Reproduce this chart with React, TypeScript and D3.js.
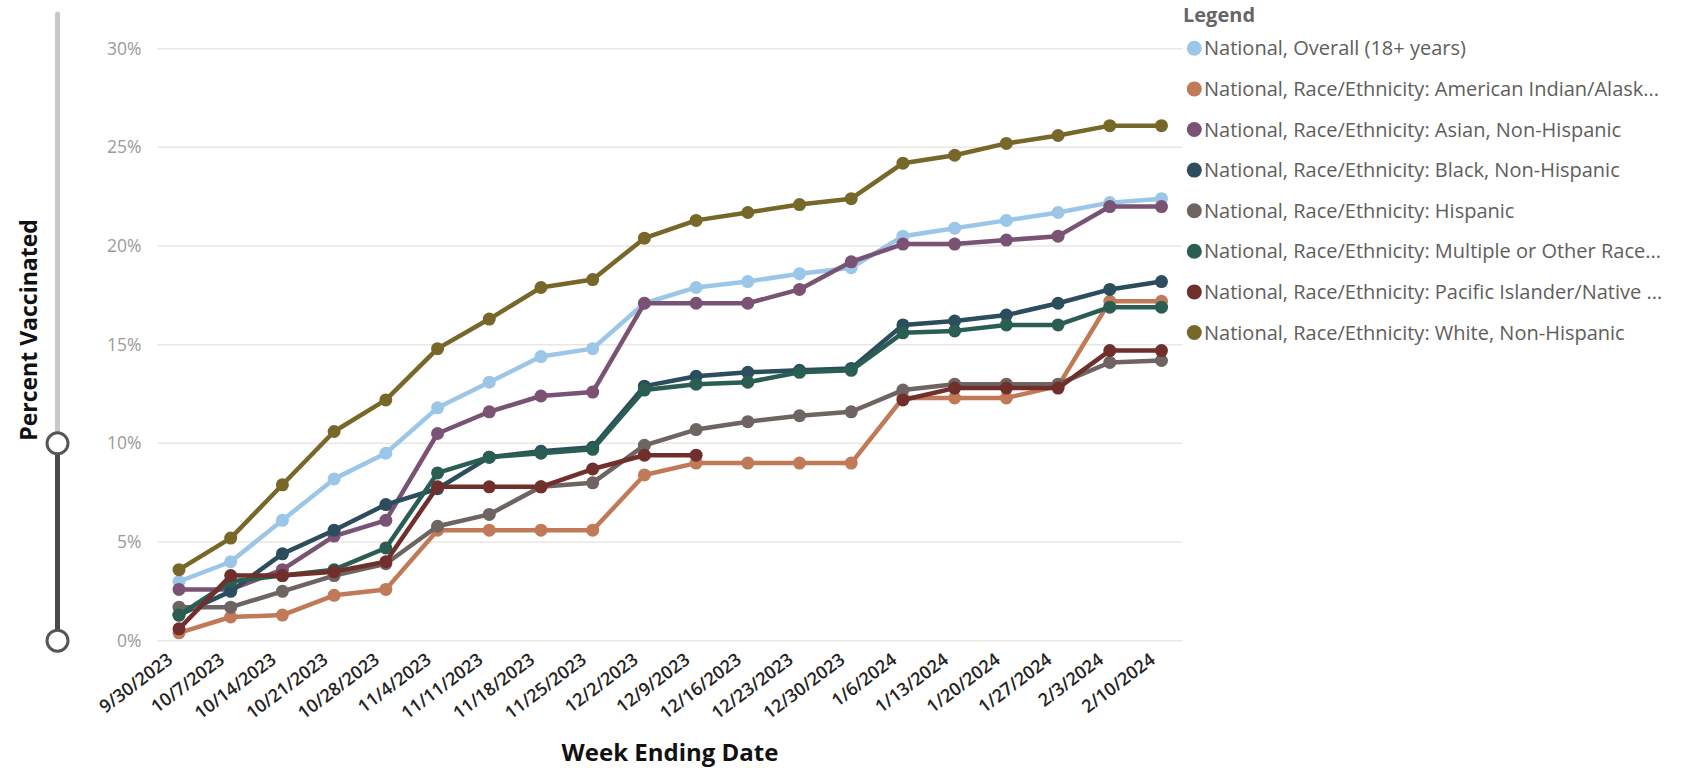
import React from "react";
import * as d3 from "d3";

const weeks = [
  "9/30/2023", "10/7/2023", "10/14/2023", "10/21/2023", "10/28/2023",
  "11/4/2023", "11/11/2023", "11/18/2023", "11/25/2023", "12/2/2023",
  "12/9/2023", "12/16/2023", "12/23/2023", "12/30/2023", "1/6/2024",
  "1/13/2024", "1/20/2024", "1/27/2024", "2/3/2024", "2/10/2024",
];

const overall = [3.0, 4.0, 6.1, 8.2, 9.5, 11.8, 13.1, 14.4, 14.8, 17.1, 17.9, 18.2, 18.6, 18.9, 20.5, 20.9, 21.3, 21.7, 22.2, 22.4];
const aian = [0.4, 1.2, 1.3, 2.3, 2.6, 5.6, 5.6, 5.6, 5.6, 8.4, 9.0, 9.0, 9.0, 9.0, 12.3, 12.3, 12.3, 12.9, 17.2, 17.2];
const asian = [2.6, 2.6, 3.6, 5.3, 6.1, 10.5, 11.6, 12.4, 12.6, 17.1, 17.1, 17.1, 17.8, 19.2, 20.1, 20.1, 20.3, 20.5, 22.0, 22.0];
const black = [1.3, 2.5, 4.4, 5.6, 6.9, 7.7, 9.3, 9.6, 9.8, 12.9, 13.4, 13.6, 13.7, 13.8, 16.0, 16.2, 16.5, 17.1, 17.8, 18.2];
const hispanic = [1.7, 1.7, 2.5, 3.3, 3.9, 5.8, 6.4, 7.8, 8.0, 9.9, 10.7, 11.1, 11.4, 11.6, 12.7, 13.0, 13.0, 13.0, 14.1, 14.2];
const multiple = [1.3, 3.0, 3.3, 3.6, 4.7, 8.5, 9.3, 9.5, 9.7, 12.7, 13.0, 13.1, 13.6, 13.7, 15.6, 15.7, 16.0, 16.0, 16.9, 16.9];
const pacific = [0.6, 3.3, 3.3, 3.5, 4.0, 7.8, 7.8, 7.8, 8.7, 9.4, 9.4, null, null, null, 12.2, 12.8, 12.8, 12.8, 14.7, 14.7];
const white = [3.6, 5.2, 7.9, 10.6, 12.2, 14.8, 16.3, 17.9, 18.3, 20.4, 21.3, 21.7, 22.1, 22.4, 24.2, 24.6, 25.2, 25.6, 26.1, 26.1];

const seriesNames = [
  "National, Overall (18+ years)",
  "National, Race/Ethnicity: American Indian/Alask...",
  "National, Race/Ethnicity: Asian, Non-Hispanic",
  "National, Race/Ethnicity: Black, Non-Hispanic",
  "National, Race/Ethnicity: Hispanic",
  "National, Race/Ethnicity: Multiple or Other Race...",
  "National, Race/Ethnicity: Pacific Islander/Native ...",
  "National, Race/Ethnicity: White, Non-Hispanic",
];
const seriesValues = [overall, aian, asian, black, hispanic, multiple, pacific, white];
const seriesColors = ["#9CC6E8", "#C07A57", "#7A5273", "#2C4D5E", "#6E6462", "#2A5E53", "#712F2C", "#776729"];

const yTicks = [0, 5, 10, 15, 20, 25, 30];

const FONT = "'Open Sans', 'Noto Sans', sans-serif";

export default function App() {
  const width = 1688;
  const height = 768;

  const x = d3.scalePoint<string>().domain(weeks).range([179, 1161.5]);
  const y = d3.scaleLinear().domain([0, 30]).range([640.7, 48.7]);
  const gridLeft = 157.5;
  const gridRight = 1182.5;

  const line = d3
    .line<number | null>()
    .defined((d) => d != null)
    .x((_, i) => x(weeks[i]) as number)
    .y((d) => y(d as number));

  const sliderX = 57.5;

  return (
    <svg
      width={width}
      height={height}
      style={{ position: "absolute", left: 0, top: 0, background: "#fff" }}
      fontFamily={FONT}
    >
      {/* range slider on the value axis */}
      <line x1={sliderX} x2={sliderX} y1={14} y2={y(10)} stroke="#C8C8C8" strokeWidth={5} strokeLinecap="round" />
      <line x1={sliderX} x2={sliderX} y1={y(10)} y2={y(0)} stroke="#4A4A4A" strokeWidth={5} />
      {[10, 0].map((v) => (
        <circle key={v} cx={sliderX} cy={y(v)} r={10.5} fill="#fff" stroke="#555" strokeWidth={3} />
      ))}

      {/* gridlines and value labels */}
      {yTicks.map((t) => (
        <g key={t}>
          <line x1={gridLeft} x2={gridRight} y1={y(t)} y2={y(t)} stroke="#EAE6E2" strokeWidth={1.5} />
          <text x={141.5} y={y(t)} dy="0.35em" textAnchor="end" fontSize={17.5} fill="#9B9B9B">
            {t}%
          </text>
        </g>
      ))}

      {/* week labels */}
      {weeks.map((w) => (
        <text
          key={w}
          transform={`translate(${(x(w) as number) - 5},${662}) rotate(-37)`}
          textAnchor="end"
          fontSize={18}
          fill="#252423"
          fontWeight={600}
        >
          {w}
        </text>
      ))}

      {/* series lines */}
      {seriesValues.map((vals, si) => (
        <g key={si}>
          <path d={line(vals) || ""} fill="none" stroke={seriesColors[si]} strokeWidth={4.5} strokeLinejoin="round" />
          {vals.map((v, i) =>
            v == null ? null : (
              <circle key={i} cx={x(weeks[i]) as number} cy={y(v)} r={6.5} fill={seriesColors[si]} />
            )
          )}
        </g>
      ))}

      {/* axis titles */}
      <text
        transform={`translate(37,330) rotate(-90)`}
        textAnchor="middle"
        fontSize={23}
        fontWeight={700}
        fill="#111"
      >
        Percent Vaccinated
      </text>
      <text x={670} y={761} textAnchor="middle" fontSize={24} fontWeight={700} fill="#111">
        Week Ending Date
      </text>

      {/* legend */}
      <text x={1183} y={15} dy="0.35em" fontSize={20} fontWeight={700} fill="#666">
        Legend
      </text>
      {seriesNames.map((name, i) => {
        const cy = 48.3 + i * 40.6;
        return (
          <g key={name}>
            <circle cx={1194.3} cy={cy} r={7.5} fill={seriesColors[i]} />
            <text x={1204} y={cy} dy="0.35em" fontSize={20} fill="#605E5C">
              {name}
            </text>
          </g>
        );
      })}
    </svg>
  );
}
